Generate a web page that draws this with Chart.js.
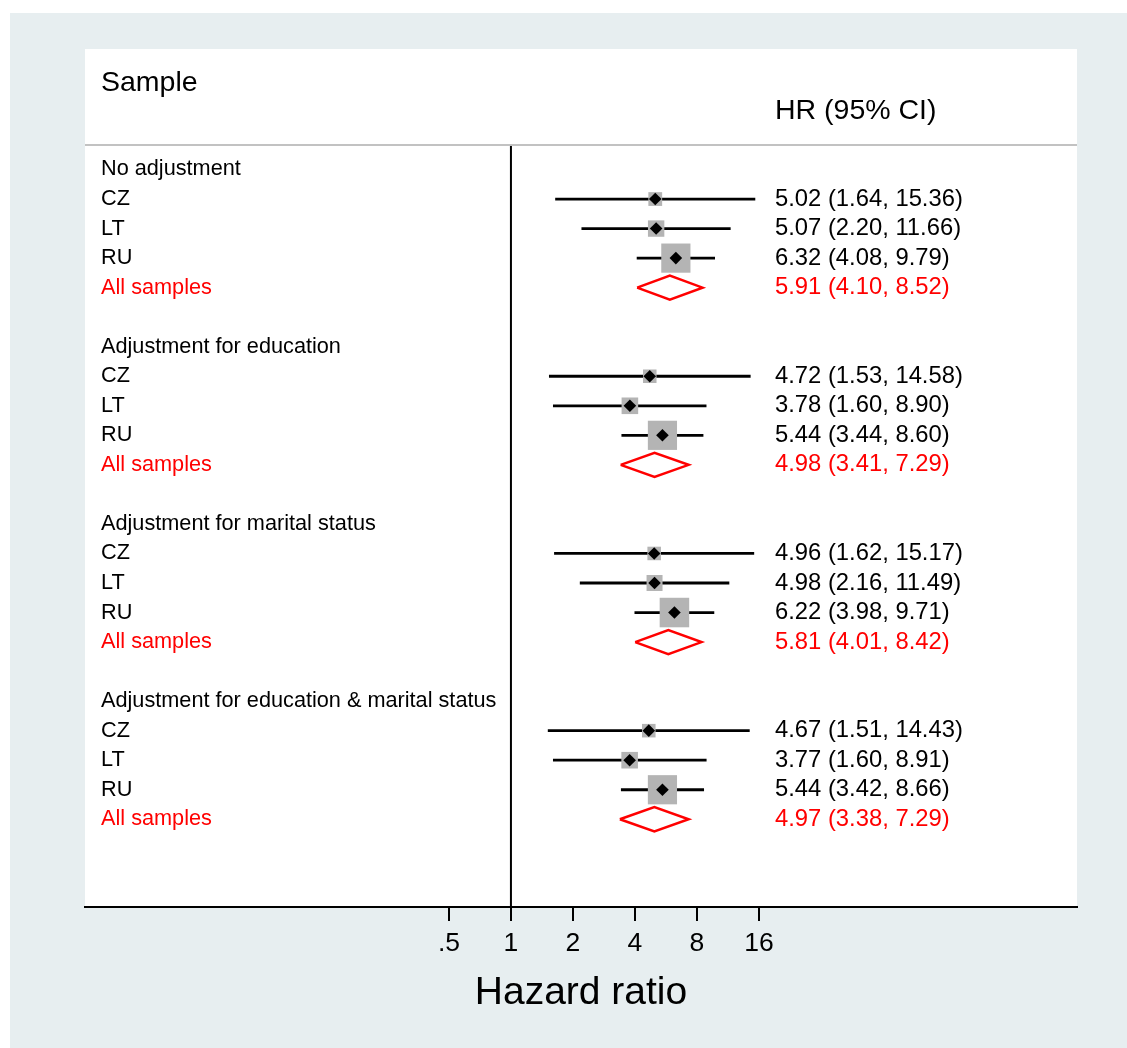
<!DOCTYPE html>
<html>
<head>
<meta charset="utf-8">
<script src="https://cdn.jsdelivr.net/npm/chart.js@4.4.1/dist/chart.umd.min.js"></script>
<style>
  html, body { margin: 0; padding: 0; background: #fff; }
  canvas { display: block; }
</style>
</head>
<body>
<canvas id="forest" width="1127" height="1048"></canvas>
<script>
// Forest plot - hazard ratios by sample, 4 adjustment models
const groupLabels = ['No adjustment', 'Adjustment for education', 'Adjustment for marital status', 'Adjustment for education & marital status'];
const sampleLabels = ['CZ', 'LT', 'RU', 'All samples'];

// each row: CZ, LT, RU, All samples (pooled)
const hr = [
  [5.02, 5.07, 6.32, 5.91],
  [4.72, 3.78, 5.44, 4.98],
  [4.96, 4.98, 6.22, 5.81],
  [4.67, 3.77, 5.44, 4.97]
];
const ciLow = [
  [1.64, 2.20, 4.08, 4.10],
  [1.53, 1.60, 3.44, 3.41],
  [1.62, 2.16, 3.98, 4.01],
  [1.51, 1.60, 3.42, 3.38]
];
const ciHigh = [
  [15.36, 11.66, 9.79, 8.52],
  [14.58, 8.90, 8.60, 7.29],
  [15.17, 11.49, 9.71, 8.42],
  [14.43, 8.91, 8.66, 7.29]
];
// study weights (%) for CZ, LT, RU
const weights = [
  [14.5, 20.5, 65.0],
  [14.0, 21.0, 65.0],
  [14.0, 19.5, 66.5],
  [14.0, 21.0, 65.0]
];

const tickValues = [0.5, 1, 2, 4, 8, 16];
const tickLabels = ['.5', '1', '2', '4', '8', '16'];

const FONT = '"Liberation Sans", Arial, sans-serif';
const xMin = Math.pow(2, -6.87), xMax = Math.pow(2, 9.13);
const yMin = -4.08, yMax = 24.97;
const sepRow = -0.83;
const rowOf = (g, s) => g * 6 + s + 1;

// build datasets
const datasets = [];

// header separator + null line
datasets.push({
  data: [{x: xMin, y: sepRow}, {x: xMax, y: sepRow}],
  showLine: true, borderColor: '#c2c2c2', borderWidth: 2, pointRadius: 0, order: 10
});
datasets.push({
  data: [{x: 1, y: sepRow}, {x: 1, y: yMax}],
  showLine: true, borderColor: '#000', borderWidth: 2, pointRadius: 0, order: 10
});

const boxes = [], points = [];
hr.forEach((row, g) => {
  row.forEach((v, s) => {
    const y = rowOf(g, s);
    if (s < 3) {
      boxes.push({x: v, y: y, w: weights[g][s]});
      points.push({x: v, y: y});
      datasets.push({
        data: [{x: ciLow[g][s], y: y}, {x: ciHigh[g][s], y: y}],
        showLine: true, borderColor: '#000', borderWidth: 2.8, pointRadius: 0, order: 8
      });
    } else {
      const h = 0.41;
      datasets.push({
        data: [
          {x: ciLow[g][s], y: y}, {x: v, y: y - h}, {x: ciHigh[g][s], y: y},
          {x: v, y: y + h}, {x: ciLow[g][s], y: y}
        ],
        showLine: true, borderColor: '#ff0000', borderWidth: 2.5, pointRadius: 0,
        borderJoinStyle: 'miter', tension: 0, order: 5
      });
    }
  });
});

datasets.push({
  data: boxes, pointStyle: 'rect', backgroundColor: '#b4b4b4', borderWidth: 0,
  pointRadius: c => (c.raw ? 3.62 * Math.sqrt(c.raw.w) / Math.SQRT2 : 0), order: 7
});
datasets.push({
  data: points, pointStyle: 'rectRot', backgroundColor: '#000', borderColor: '#000',
  borderWidth: 0, pointRadius: 6.3, order: 6
});

const panels = {
  id: 'panels',
  beforeDraw(chart) {
    const {ctx, width, height, chartArea: a} = chart;
    ctx.save();
    ctx.fillStyle = '#fff';
    ctx.fillRect(0, 0, width, height);
    ctx.fillStyle = '#e7eef0';
    ctx.fillRect(10, 13, width - 10, height - 13);
    ctx.fillStyle = '#fff';
    ctx.fillRect(a.left, a.top, a.right - a.left, a.bottom - a.top);
    ctx.restore();
  }
};

const labels = {
  id: 'labels',
  afterDatasetsDraw(chart) {
    const {ctx, chartArea: a, scales: {y}} = chart;
    const leftX = a.left + 16, rightX = a.left + 690;
    ctx.save();
    ctx.textBaseline = 'middle';
    ctx.textAlign = 'left';
    ctx.fillStyle = '#000';
    ctx.font = '28.5px ' + FONT;
    ctx.fillText('Sample', leftX, y.getPixelForValue(-2.91));
    ctx.fillText('HR (95% CI)', rightX, y.getPixelForValue(-1.96));

    groupLabels.forEach((gl, g) => {
      ctx.font = '21.7px ' + FONT;
      ctx.fillStyle = '#000';
      ctx.fillText(gl, leftX, y.getPixelForValue(g * 6));
      sampleLabels.forEach((sl, s) => {
        const py = y.getPixelForValue(rowOf(g, s));
        ctx.fillStyle = s === 3 ? '#ff0000' : '#000';
        ctx.font = '21.7px ' + FONT;
        ctx.fillText(sl, leftX, py);
        ctx.font = '23.8px ' + FONT;
        const txt = hr[g][s].toFixed(2) + ' (' + ciLow[g][s].toFixed(2) + ', ' + ciHigh[g][s].toFixed(2) + ')';
        ctx.fillText(txt, rightX, py);
      });
    });
    ctx.restore();
  }
};

new Chart(document.getElementById('forest'), {
  type: 'scatter',
  data: { datasets: datasets },
  options: {
    responsive: false,
    devicePixelRatio: 1,
    animation: false,
    events: [],
    layout: { padding: { left: 85, right: 50, top: 49, bottom: 0 } },
    plugins: { legend: { display: false }, tooltip: { enabled: false } },
    scales: {
      x: {
        type: 'logarithmic',
        min: xMin,
        max: xMax,
        afterBuildTicks: s => { s.ticks = tickValues.map(v => ({value: v})); },
        afterFit: s => { s.height = 141; },
        ticks: {
          autoSkip: false, maxRotation: 0, padding: 7, color: '#000',
          font: { family: FONT, size: 26.5 },
          callback: v => tickLabels[tickValues.indexOf(v)]
        },
        grid: { drawOnChartArea: false, drawTicks: true, tickLength: 14, color: '#000', lineWidth: 2 },
        border: { display: true, color: '#000', width: 2 },
        title: {
          display: true, text: 'Hazard ratio', color: '#000',
          font: { family: FONT, size: 39 }, padding: { top: 0, bottom: 31 }
        }
      },
      y: { display: false, min: yMin, max: yMax, reverse: true }
    }
  },
  plugins: [panels, labels]
});
</script>
</body>
</html>
